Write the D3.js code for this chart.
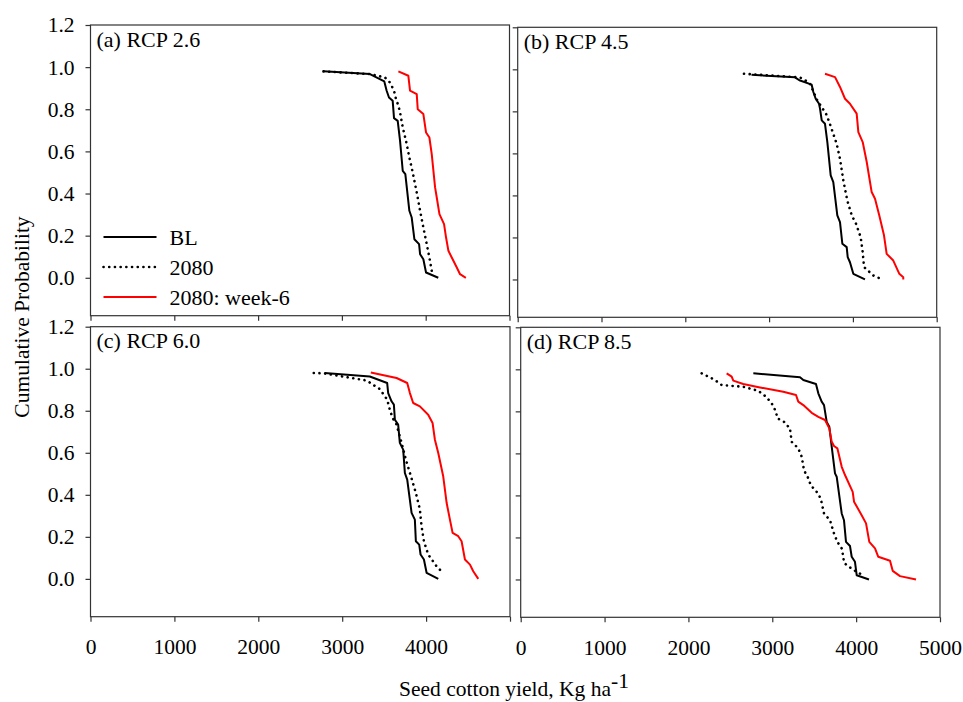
<!DOCTYPE html>
<html>
<head>
<meta charset="utf-8">
<script src="https://cdn.jsdelivr.net/npm/d3@7"></script>
<style>
  body { margin: 0; background: #fff; }
  svg text { font-family: "Liberation Serif", "Times New Roman", serif; }
</style>
</head>
<body>
<div id="chart"></div>
<script>
const xTicks = [0, 1000, 2000, 3000, 4000, 5000];
const yTicks = [0, 0.2, 0.4, 0.6, 0.8, 1.0, 1.2];
const panelLabels = ["(a) RCP 2.6", "(b) RCP 4.5", "(c) RCP 6.0", "(d) RCP 8.5"];
const seriesNames = ["BL", "2080", "2080: week-6"];

// [seed cotton yield, cumulative probability]
const aBL = [[2780,0.98],[3335,0.967],[3506,0.932],[3534,0.888],[3562,0.856],[3606,0.84],[3622,0.758],[3666,0.745],[3694,0.65],[3726,0.508],[3757,0.492],[3805,0.318],[3833,0.286],[3865,0.183],[3921,0.16],[3933,0.112],[3972,0.088],[4004,0.025],[4150,0.0]];
const a2080 = [[2780,0.98],[3335,0.967],[3514,0.951],[3574,0.927],[3622,0.888],[3646,0.848],[3674,0.817],[3694,0.785],[3726,0.714],[3765,0.65],[3805,0.571],[3845,0.5],[3893,0.405],[3933,0.318],[3972,0.239],[4012,0.16],[4044,0.096],[4072,0.033],[4090,0.01]];
const aW6 = [[3674,0.98],[3793,0.959],[3813,0.888],[3893,0.872],[3905,0.8],[3972,0.777],[4004,0.69],[4044,0.666],[4072,0.587],[4112,0.429],[4132,0.381],[4164,0.302],[4219,0.255],[4243,0.191],[4271,0.128],[4311,0.096],[4371,0.049],[4410,0.017],[4479,0.0]];

const bBL = [[2790,0.974],[3309,0.962],[3361,0.948],[3508,0.927],[3528,0.892],[3556,0.86],[3596,0.836],[3608,0.812],[3628,0.757],[3667,0.741],[3695,0.654],[3735,0.495],[3766,0.463],[3814,0.305],[3846,0.273],[3874,0.17],[3926,0.154],[3938,0.106],[3965,0.082],[4005,0.027],[4144,0.0]];
const b2080 = [[2700,0.979],[3360,0.962],[3408,0.955],[3488,0.931],[3575,0.852],[3679,0.789],[3718,0.749],[3806,0.646],[3846,0.574],[3886,0.471],[3933,0.376],[3986,0.305],[4037,0.265],[4093,0.201],[4117,0.13],[4133,0.059],[4244,0.019],[4332,0.003]];
const bW6 = [[3667,0.979],[3787,0.963],[3846,0.916],[3906,0.86],[3965,0.836],[4045,0.789],[4065,0.701],[4117,0.654],[4165,0.559],[4224,0.416],[4264,0.384],[4315,0.305],[4371,0.21],[4403,0.122],[4482,0.09],[4554,0.027],[4601,0.011],[4601,0.0]];

const cBL = [[2790,0.98],[3329,0.963],[3536,0.932],[3548,0.884],[3588,0.845],[3616,0.829],[3628,0.757],[3667,0.734],[3687,0.647],[3727,0.615],[3747,0.504],[3775,0.472],[3827,0.314],[3866,0.282],[3878,0.179],[3918,0.163],[3934,0.116],[3974,0.092],[4006,0.029],[4145,0.0]];
const c2080 = [[2661,0.98],[2780,0.978],[3290,0.944],[3449,0.903],[3536,0.853],[3568,0.805],[3600,0.766],[3648,0.734],[3708,0.647],[3759,0.567],[3807,0.504],[3878,0.409],[3926,0.33],[3946,0.25],[3974,0.179],[4025,0.116],[4125,0.06],[4204,0.027]];
const cW6 = [[3341,0.982],[3648,0.956],[3775,0.932],[3807,0.884],[3846,0.837],[3926,0.821],[4025,0.781],[4077,0.742],[4105,0.662],[4145,0.599],[4204,0.488],[4245,0.361],[4284,0.282],[4316,0.219],[4383,0.203],[4423,0.179],[4463,0.092],[4523,0.068],[4562,0.036],[4622,0.0]];

const dBL = [[2774,0.981],[3331,0.962],[3370,0.949],[3521,0.93],[3549,0.886],[3589,0.846],[3617,0.83],[3649,0.75],[3680,0.727],[3709,0.631],[3748,0.505],[3768,0.489],[3828,0.314],[3855,0.282],[3879,0.179],[3927,0.159],[3947,0.108],[3986,0.084],[4007,0.02],[4153,0.0]];
const d2080 = [[2158,0.981],[2317,0.949],[2397,0.925],[2654,0.917],[2833,0.898],[2925,0.87],[2993,0.838],[3044,0.798],[3060,0.767],[3140,0.75],[3211,0.719],[3231,0.655],[3310,0.624],[3351,0.584],[3378,0.52],[3430,0.481],[3458,0.449],[3530,0.417],[3577,0.386],[3617,0.314],[3688,0.282],[3736,0.219],[3776,0.179],[3828,0.148],[3847,0.108],[3855,0.079],[3927,0.057],[4007,0.036],[4086,0.02]];
const dW6 = [[2456,0.981],[2516,0.965],[2535,0.946],[2654,0.93],[2854,0.914],[3131,0.893],[3283,0.878],[3310,0.846],[3370,0.83],[3470,0.793],[3549,0.774],[3629,0.759],[3680,0.719],[3709,0.655],[3736,0.635],[3776,0.624],[3828,0.536],[3867,0.497],[3959,0.417],[3975,0.37],[4066,0.306],[4118,0.267],[4157,0.179],[4225,0.148],[4264,0.108],[4404,0.089],[4436,0.041],[4523,0.016],[4714,0.0]];

const width = 963, height = 702;
const fontSize = 21.5;
const serif = "'Liberation Serif', 'Times New Roman', serif";

const styles = [
  { stroke: "#000", width: 2, dash: null, cap: "butt" },
  { stroke: "#000", width: 2.6, dash: "0.1,5.6", cap: "round" },
  { stroke: "#ff0000", width: 2, dash: null, cap: "butt" }
];

// panel boxes in pixels; xMax = last labelled x tick
const panels = [
  { label: panelLabels[0], series: [aBL, a2080, aW6], left: 90.5, right: 509.5, top: 25, bottom: 315.7, yLabels: true, xLabels: false, legend: true },
  { label: panelLabels[1], series: [bBL, b2080, bW6], left: 517.7, right: 936.7, top: 27.3, bottom: 317.3, yLabels: false, xLabels: false },
  { label: panelLabels[2], series: [cBL, c2080, cW6], left: 90.5, right: 510, top: 326.7, bottom: 616.7, yLabels: true, xLabels: true, xMax: 4000 },
  { label: panelLabels[3], series: [dBL, d2080, dW6], left: 520.7, right: 940, top: 327.3, bottom: 617.3, yLabels: false, xLabels: true, xMax: 5000 }
];

const svg = d3.select("#chart")
  .append("svg")
  .attr("width", width)
  .attr("height", height)
  .attr("font-family", serif);

panels.forEach(p => {
  const x = d3.scaleLinear().domain([0, 5000]).range([p.left, p.right]);
  const y = d3.scaleLinear().domain([-0.18, 1.2]).range([p.bottom, p.top]);

  const g = svg.append("g");

  const yAxis = d3.axisLeft(y)
    .tickValues(yTicks)
    .tickSize(5)
    .tickPadding(11)
    .tickFormat(p.yLabels ? d3.format(".1f") : "");
  const yg = g.append("g")
    .attr("transform", `translate(${p.left},0)`)
    .call(yAxis);

  const xAxis = d3.axisBottom(x)
    .tickValues(xTicks)
    .tickSize(5)
    .tickPadding(17)
    .tickFormat(d => p.xLabels && d <= p.xMax ? d3.format("d")(d) : "");
  const xg = g.append("g")
    .attr("transform", `translate(0,${p.bottom})`)
    .call(xAxis);

  [yg, xg].forEach(ax => {
    ax.attr("font-family", serif).attr("font-size", fontSize);
    ax.select(".domain").remove();
    ax.selectAll(".tick line").attr("stroke", "#333").attr("stroke-width", 1.2);
    ax.selectAll(".tick text").attr("fill", "#000");
  });

  g.append("rect")
    .attr("x", p.left)
    .attr("y", p.top)
    .attr("width", p.right - p.left)
    .attr("height", p.bottom - p.top)
    .attr("fill", "none")
    .attr("stroke", "#333")
    .attr("stroke-width", 1.2);

  g.append("text")
    .attr("x", p.left + 6)
    .attr("y", p.top + 21.5)
    .attr("font-family", serif)
    .attr("font-size", 22)
    .text(p.label);

  const line = d3.line()
    .x(d => x(d[0]))
    .y(d => y(d[1]));

  p.series.forEach((s, i) => {
    const st = styles[i];
    g.append("path")
      .datum(s)
      .attr("d", line)
      .attr("fill", "none")
      .attr("stroke", st.stroke)
      .attr("stroke-width", st.width)
      .attr("stroke-linecap", st.cap)
      .attr("stroke-linejoin", "round")
      .attr("stroke-dasharray", st.dash);
  });

  if (p.legend) {
    const leg = g.append("g");
    seriesNames.forEach((name, i) => {
      const st = styles[i];
      const ly = 237 + i * 30;
      leg.append("line")
        .attr("x1", p.left + 13)
        .attr("x2", p.left + 66)
        .attr("y1", ly)
        .attr("y2", ly)
        .attr("stroke", st.stroke)
        .attr("stroke-width", st.width)
        .attr("stroke-linecap", st.cap)
        .attr("stroke-dasharray", st.dash);
      leg.append("text")
        .attr("x", p.left + 79)
        .attr("y", ly + 8)
        .attr("font-family", serif)
        .attr("font-size", 22)
        .text(name);
    });
  }
});

// axis titles
svg.append("text")
  .attr("transform", "translate(29,317) rotate(-90)")
  .attr("text-anchor", "middle")
  .attr("font-family", serif)
  .attr("font-size", fontSize)
  .text("Cumulative Probability");

const xt = svg.append("text")
  .attr("x", 514)
  .attr("y", 696)
  .attr("text-anchor", "middle")
  .attr("font-family", serif)
  .attr("font-size", fontSize);
xt.append("tspan").text("Seed cotton yield, Kg ha");
xt.append("tspan").attr("dy", -8).text("-1");
</script>
</body>
</html>
